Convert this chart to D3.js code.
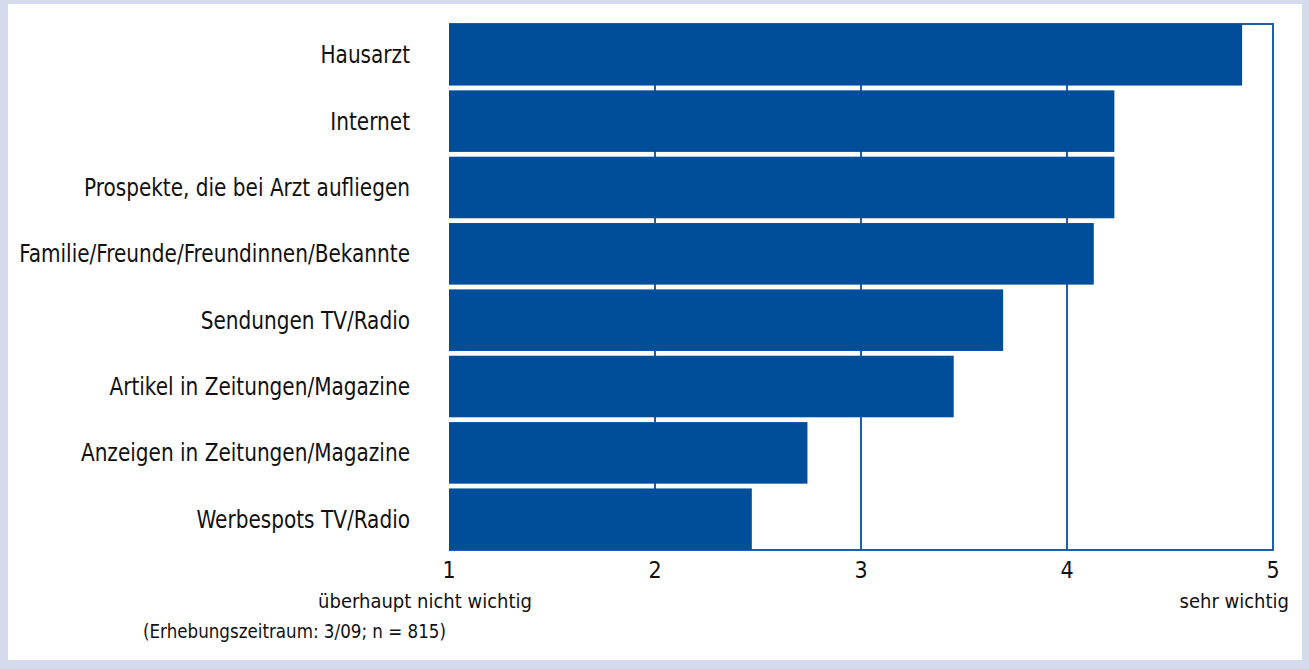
<!DOCTYPE html>
<html>
<head>
<meta charset="utf-8">
<script src="https://cdn.jsdelivr.net/npm/d3@7"></script>
<style>
  body { margin: 0; background: #d5daec; }
  svg { display: block; }
  text { font-family: "Liberation Sans Narrow", "DejaVu Sans Condensed", "DejaVu Sans", sans-serif; font-stretch: condensed; fill: #111; }
</style>
</head>
<body>
<svg id="chart" width="1309" height="669"></svg>
<script>
var categories = [
    'Hausarzt',
    'Internet',
    'Prospekte, die bei Arzt aufliegen',
    'Familie/Freunde/Freundinnen/Bekannte',
    'Sendungen TV/Radio',
    'Artikel in Zeitungen/Magazine',
    'Anzeigen in Zeitungen/Magazine',
    'Werbespots TV/Radio'
];
var values = [4.85, 4.23, 4.23, 4.13, 3.69, 3.45, 2.74, 2.47];
var ticks = [1, 2, 3, 4, 5];
var lowLabel = 'überhaupt nicht wichtig';
var highLabel = 'sehr wichtig';
var note = '(Erhebungszeitraum: 3/09; n = 815)';

var blue = '#004e9a';
var gridColor = '#1d5fa8';
var squeeze = 0.93;

var svg = d3.select('#chart');

svg.append('rect')
    .attr('x', 8).attr('y', 4)
    .attr('width', 1294).attr('height', 656)
    .attr('fill', '#fff');

var plotL = 449, plotR = 1273, plotT = 24, plotB = 550;

var x = d3.scaleLinear().domain([1, 5]).range([plotL, plotR]);
var y = d3.scaleBand().domain(categories).range([plotT, plotB])
    .paddingInner(0.072).paddingOuter(0);

// grid lines, bars drawn over them
svg.append('g').selectAll('line')
    .data(ticks.slice(1, -1))
    .enter().append('line')
    .attr('x1', function (d) { return x(d); })
    .attr('x2', function (d) { return x(d); })
    .attr('y1', plotT).attr('y2', plotB)
    .attr('stroke', gridColor).attr('stroke-width', 2);

// frame: top, right, bottom
svg.append('path')
    .attr('d', 'M' + plotL + ',' + plotT + 'H' + plotR + 'V' + plotB + 'H' + plotL)
    .attr('fill', 'none')
    .attr('stroke', gridColor).attr('stroke-width', 2);

svg.append('g').selectAll('rect')
    .data(values)
    .enter().append('rect')
    .attr('x', x(1))
    .attr('y', function (d, i) { return y(categories[i]); })
    .attr('width', function (d) { return x(d) - x(1); })
    .attr('height', y.bandwidth())
    .attr('fill', blue);

svg.append('g').selectAll('text')
    .data(categories)
    .enter().append('text')
    .attr('transform', function (d) {
        return 'translate(410,' + (y(d) + y.bandwidth() / 2) + ') scale(' + squeeze + ',1)';
    })
    .attr('dy', '0.35em')
    .attr('text-anchor', 'end')
    .style('font-size', '24px')
    .text(function (d) { return d; });

svg.append('g').selectAll('text')
    .data(ticks)
    .enter().append('text')
    .attr('x', function (d) { return x(d); })
    .attr('y', 578)
    .attr('text-anchor', 'middle')
    .style('font-size', '23px')
    .text(function (d) { return d; });

svg.append('text')
    .attr('x', 532).attr('y', 608)
    .attr('text-anchor', 'end')
    .style('font-size', '20px')
    .text(lowLabel);

svg.append('text')
    .attr('x', 1289).attr('y', 608)
    .attr('text-anchor', 'end')
    .style('font-size', '20px')
    .text(highLabel);

svg.append('text')
    .attr('transform', 'translate(143,638) scale(' + squeeze + ',1)')
    .style('font-size', '20px')
    .text(note);
</script>
</body>
</html>
